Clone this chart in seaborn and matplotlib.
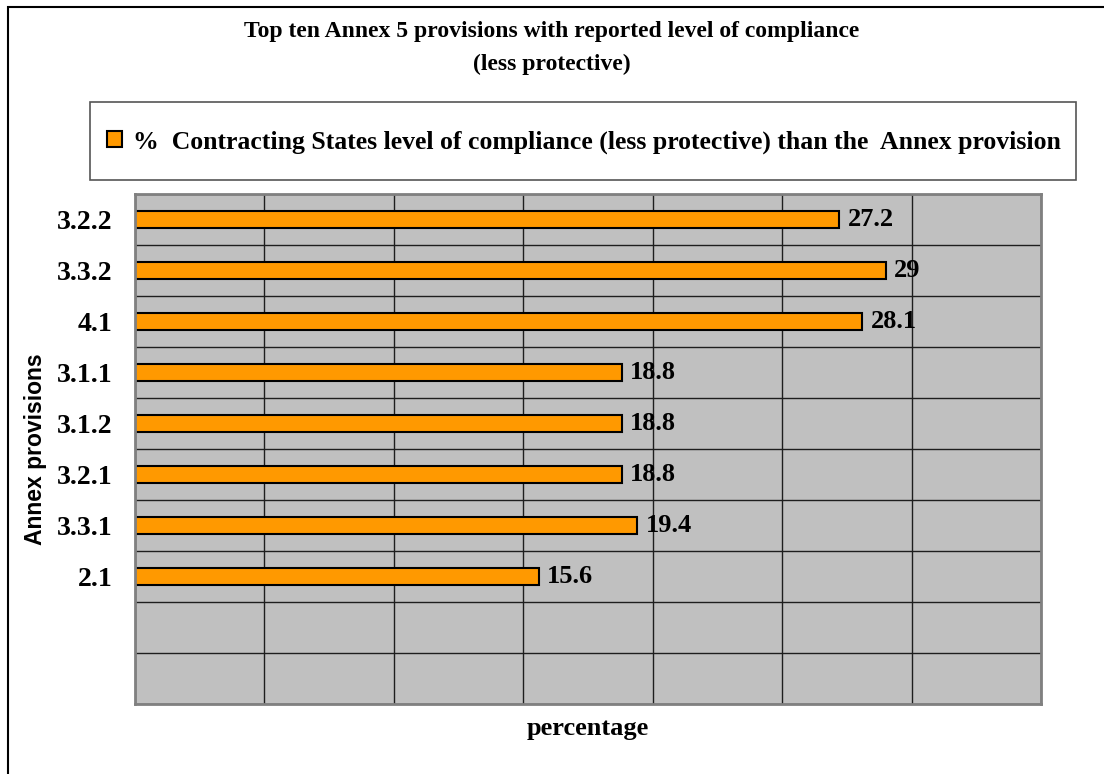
import numpy as np
import pandas as pd
import seaborn as sns
import matplotlib
matplotlib.use("Agg")
import matplotlib.pyplot as plt
from matplotlib.patches import Rectangle, Patch

# data (top to bottom)
provisions = ["3.2.2", "3.3.2", "4.1", "3.1.1", "3.1.2", "3.2.1", "3.3.1", "2.1"]
percent = [27.2, 29, 28.1, 18.8, 18.8, 18.8, 19.4, 15.6]
# two empty category slots below the bars
empty_slots = [" ", "  "]
series_name = "%  Contracting States level of compliance (less protective) than the  Annex provision"
title_lines = ["Top ten Annex 5 provisions with reported level of compliance", "(less protective)"]

df = pd.DataFrame({"provision": provisions, "percent": percent})
order = provisions + empty_slots

sns.set_style("white")
serif = ["Liberation Serif", "DejaVu Serif"]
sans = ["Liberation Sans", "DejaVu Sans"]
plt.rcParams["font.family"] = serif
plt.rcParams["text.color"] = "black"
plt.rcParams["axes.labelcolor"] = "black"
plt.rcParams["ytick.color"] = "black"

W, H = 1104, 774
fig = plt.figure(figsize=(W / 100, H / 100), dpi=100)
fig.patch.set_facecolor("white")

# plot area in pixels
L, R, T, B = 135, 1041, 194, 704
ax = fig.add_axes([L / W, 1 - B / H, (R - L) / W, (B - T) / H])
ax.set_facecolor("#C0C0C0")

sns.barplot(data=df, x="percent", y="provision", order=order, orient="h",
            color="#FF9900", edgecolor="black", linewidth=1.5, width=0.33,
            saturation=1, ax=ax)

ax.bar_label(ax.containers[0], fmt="%g", padding=6, fontsize=19,
             fontweight="bold", family=serif, color="black")

ax.set_xlim(0, 35)
ax.set_ylim(len(order) - 0.5, -0.5)
ax.set_xticks(np.arange(0, 36, 5))
ax.set_xticklabels([])
ax.set_yticks(np.arange(len(order)))
ax.set_yticklabels(order, fontsize=20, fontweight="bold", color="black")
ax.set_yticks(np.arange(-0.5, len(order), 1), minor=True)
ax.tick_params(axis="x", which="both", length=0)
ax.tick_params(axis="y", which="major", length=0, pad=16)
ax.tick_params(axis="y", which="minor", length=6, width=1.2, color="black", direction="out")

ax.set_axisbelow(True)
ax.grid(axis="x", which="major", color="#1e1e1e", linewidth=1.0)
ax.grid(axis="y", which="minor", color="#1e1e1e", linewidth=1.0)
ax.grid(axis="y", which="major", visible=False)
for s in ax.spines.values():
    s.set_color("#808080")
    s.set_linewidth(2)

ax.set_xlabel("percentage", fontsize=19, fontweight="bold", labelpad=6, color="black")
ax.set_ylabel("Annex provisions", fontsize=16.5, fontweight="bold", family=sans, color="black")
ax.yaxis.set_label_coords((47 - L) / (R - L), 0.5)

# title
fig.text(552 / W, 1 - 48 / H, "\n".join(title_lines), ha="center", va="center",
         fontsize=17, fontweight="bold", linespacing=1.75, color="black")

# legend box
fig.patches.append(Rectangle((90 / W, 1 - 180 / H), (1076 - 90) / W, 78 / H,
                             transform=fig.transFigure, facecolor="white",
                             edgecolor="#555555", linewidth=1.2))
handle = Patch(facecolor="#FF9900", edgecolor="black", linewidth=1.5)
fig.legend([handle], [series_name], loc="center left", bbox_to_anchor=(107 / W, 1 - 142 / H),
           frameon=False, prop={"family": serif, "weight": "bold", "size": 18.5},
           handlelength=0.6, handleheight=0.6, handletextpad=0.4, borderpad=0,
           borderaxespad=0, labelcolor="black")

# outer chart border (left and top visible)
fig.patches.append(Rectangle((8 / W, -0.1), 1.2, 1.1 - 7 / H, transform=fig.transFigure,
                             facecolor="none", edgecolor="black", linewidth=1.5))

fig.savefig("out.png", dpi=100)
